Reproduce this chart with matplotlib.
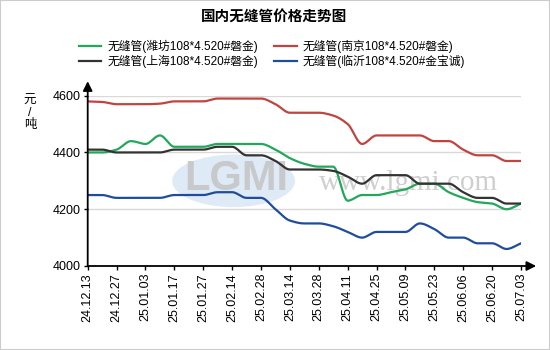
import matplotlib
matplotlib.use("Agg")
import matplotlib.pyplot as plt
import numpy as np
from matplotlib.patches import Ellipse, Rectangle

plt.rcParams['font.family'] = ['Liberation Sans', 'Noto Sans CJK SC', 'DejaVu Sans']

title = "国内无缝管价格走势图"
series_names = ["无缝管(潍坊108*4.520#磐金)", "无缝管(南京108*4.520#磐金)",
                "无缝管(上海108*4.520#磐金)", "无缝管(临沂108*4.520#金宝诚)"]
tick_labels = ["24.12.13", "24.12.27", "25.01.03", "25.01.17", "25.01.27", "25.02.14",
               "25.02.28", "25.03.14", "25.03.28", "25.04.11", "25.04.25", "25.05.09",
               "25.05.23", "25.06.06", "25.06.20", "25.07.03"]

weifang = [4400, 4400, 4410, 4440, 4430, 4460, 4420, 4420, 4420, 4430, 4430, 4430, 4430, 4410,
           4380, 4360, 4350, 4350, 4230, 4250, 4250, 4260, 4270, 4290, 4290, 4260, 4240, 4225,
           4220, 4200, 4220]
nanjing = [4580, 4578, 4570, 4570, 4570, 4572, 4580, 4580, 4580, 4590, 4590, 4590, 4590, 4570,
           4540, 4540, 4540, 4530, 4500, 4430, 4460, 4460, 4460, 4460, 4440, 4440, 4410, 4390,
           4390, 4370, 4370]
shanghai = [4410, 4410, 4400, 4400, 4400, 4400, 4410, 4410, 4410, 4420, 4420, 4390, 4390, 4370,
            4340, 4340, 4340, 4335, 4315, 4290, 4320, 4320, 4320, 4290, 4290, 4290, 4260, 4240,
            4240, 4220, 4220]
linyi = [4250, 4250, 4240, 4240, 4240, 4240, 4250, 4250, 4250, 4260, 4260, 4240, 4240, 4200,
         4160, 4150, 4150, 4140, 4120, 4100, 4120, 4120, 4120, 4150, 4130, 4100, 4100, 4080,
         4080, 4060, 4080]

colors = ["#22a85a", "#c0443f", "#333333", "#1f4d9c"]
yticks = [4000, 4200, 4400, 4600]


def smooth(y, n=12):
    """Monotone cubic (Fritsch-Carlson) rendering of the series."""
    y = np.asarray(y, float)
    x = np.arange(len(y), dtype=float)
    d = np.diff(y)
    m = np.zeros_like(y)
    m[0], m[-1] = d[0], d[-1]
    for i in range(1, len(y) - 1):
        if d[i - 1] * d[i] <= 0:
            m[i] = 0.0
        else:
            m[i] = 2.0 / (1.0 / d[i - 1] + 1.0 / d[i])
    xs, ys = [], []
    for i in range(len(y) - 1):
        t = np.linspace(0, 1, n, endpoint=False)
        h00 = 2 * t**3 - 3 * t**2 + 1
        h10 = t**3 - 2 * t**2 + t
        h01 = -2 * t**3 + 3 * t**2
        h11 = t**3 - t**2
        xs.append(x[i] + t)
        ys.append(h00 * y[i] + h10 * m[i] + h01 * y[i + 1] + h11 * m[i + 1])
    xs.append([x[-1]])
    ys.append([y[-1]])
    return np.concatenate(xs), np.concatenate(ys)


fig = plt.figure(figsize=(5.5, 3.5), dpi=100)
fig.patches.append(Rectangle((0, 0), 1, 1, transform=fig.transFigure, fill=False,
                             edgecolor="#cccccc", linewidth=1.5))
ax = fig.add_axes([87.7 / 550, 1 - 266 / 350, (521 - 87.7) / 550, (266 - 95.7) / 350])

n = len(weifang)
ax.set_xlim(0, n - 1)
ax.set_ylim(4000, 4600)

# watermark
ax.add_patch(Ellipse((10.1, 4300), 8.5, 185, facecolor="#c9dcf0", edgecolor="none",
                     alpha=0.6, zorder=0))
ax.text(10.3, 4305, "LGMI", fontsize=30, fontweight="bold", color="#c4c4c4", ha="center",
        va="center", zorder=0, alpha=0.85)
ax.text(22.2, 4292, "www.lgmi.com", fontsize=21, color="#cfcfcf", ha="center", va="center",
        family="Liberation Serif", zorder=0)

for v in yticks[1:]:
    ax.axhline(v, color="#d9d9d9", linewidth=1, zorder=1)

data = [weifang, nanjing, shanghai, linyi]
handles = {}
for k in range(4):
    xs, ys = smooth(data[k])
    h, = ax.plot(xs, ys, color=colors[k], linewidth=1.6, zorder=3, label=series_names[k])
    handles[k] = h

for s in ax.spines.values():
    s.set_visible(False)
ax.annotate("", xy=(1.035, 0), xytext=(0, 0), xycoords="axes fraction",
            arrowprops=dict(arrowstyle="-|>", color="black", lw=1.3, mutation_scale=14,
                            shrinkA=0, shrinkB=0), annotation_clip=False)
ax.annotate("", xy=(0, 1.085), xytext=(0, 0), xycoords="axes fraction",
            arrowprops=dict(arrowstyle="-|>", color="black", lw=1.3, mutation_scale=14,
                            shrinkA=0, shrinkB=0), annotation_clip=False)

ax.set_yticks(yticks)
ax.set_yticklabels([str(v) for v in yticks], fontsize=9)
ax.set_xticks(np.arange(0, n, 2))
ax.set_xticklabels(tick_labels, rotation=90, fontsize=9)
ax.tick_params(axis="both", length=3, width=1, color="black", pad=2)

fig.text(30 / 550, 1 - 113 / 350, "元\n/\n吨", fontsize=9, ha="center", va="center",
         linespacing=1.0)
fig.text(274 / 550, 1 - 17.5 / 350, title, fontsize=10.5, fontweight="bold", ha="center",
         va="center")

# column-major fill: col1 = 潍坊, 上海 ; col2 = 南京, 临沂
leg_order = [0, 2, 1, 3]
leg = fig.legend([handles[k] for k in leg_order], [series_names[k] for k in leg_order],
                 ncol=2, loc="center", bbox_to_anchor=(272 / 550, 1 - 54 / 350),
                 frameon=False, fontsize=8.5, handlelength=1.9, handletextpad=0.5,
                 columnspacing=1.4, labelspacing=0.15, borderpad=0)

fig.savefig("out.png", dpi=100)
